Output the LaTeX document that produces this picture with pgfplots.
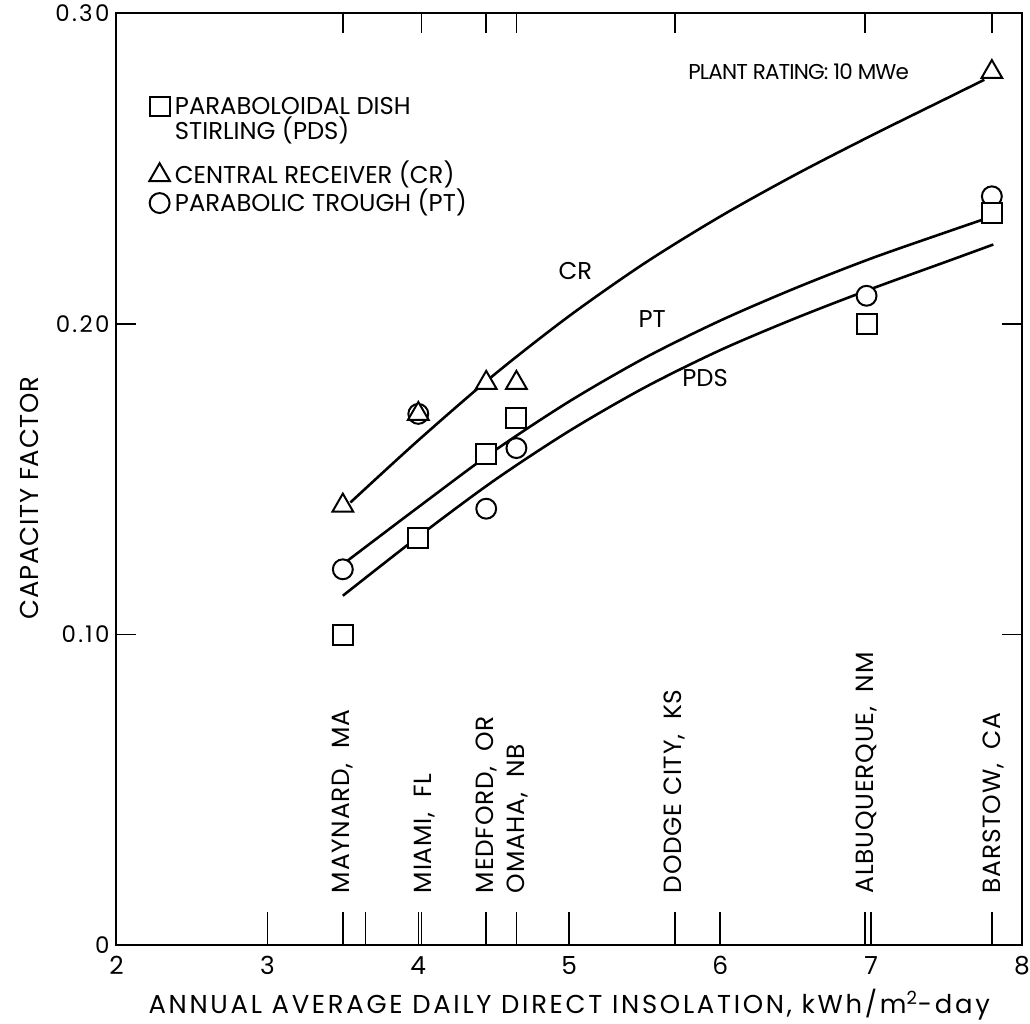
\documentclass[border=0pt]{standalone}
\usepackage{fontspec}
\setmainfont{Poppins}
\usepackage{pgfplots}
\pgfplotsset{compat=1.18}
\begin{document}
\begin{tikzpicture}
\begin{axis}[
  name=ax,
  scale only axis, width=455pt, height=468.5pt,
  xmin=2, xmax=8, ymin=0, ymax=0.30,
  axis line style={line width=1pt},
  xtick={2,3,4,5,6,7,8},
  xticklabels={2,3,4,5,6,7,8},
  extra x ticks={3.5,3.65,4.02,4.45,4.65,5.7,6.96,7.8},
  extra x tick labels={},
  xtick pos=bottom,
  major tick length=17pt,
  xtick style={line width=0.8pt, black},
  ytick={0,0.1,0.2,0.3},
  yticklabels={0,0.10,0.20,0.30},
  ytick style={draw=none},
  yticklabel style={font=\fontsize{11.5}{13}\selectfont\addfontfeature{LetterSpace=10}},
  xticklabel style={yshift=-2pt, font=\fontsize{12.5}{14}\selectfont},
  xlabel={ANNUAL AVERAGE DAILY DIRECT INSOLATION, kWh/m\textsuperscript{2}-day},
  xlabel style={at={(axis description cs:0.5,0)}, anchor=base, yshift=-34pt,
    font=\fontsize{13}{15}\selectfont\addfontfeature{LetterSpace=10.5}},
  ylabel={CAPACITY FACTOR},
  ylabel style={at={(axis description cs:-0.0956,0.48)}, anchor=center,
    font=\fontsize{13}{15}\selectfont\addfontfeature{LetterSpace=3}},
  legend style={at={(0.0285,0.9117)}, anchor=north west, draw=none, fill=none,
    inner sep=0pt, row sep=0pt, column sep=2.5pt,
    font=\fontsize{12.2}{12}\selectfont,
    nodes={inner sep=0pt, text depth=}, cells={anchor=base west}},
  legend image post style={yshift=4.2pt},
]
% legend
\addlegendimage{only marks, mark=square*, mark size=5pt, mark options={fill=white, draw=black, line width=1pt}}
\addlegendentry{\rule[-1.25pt]{0pt}{10.9pt}\smash{PARABOLOIDAL DISH}}
\addlegendimage{empty legend}
\addlegendentry{\rule[-11pt]{0pt}{22.25pt}\smash{STIRLING (PDS)}}
\addlegendimage{only marks, mark=triangle*, mark size=6pt, mark options={fill=white, draw=black, line width=1pt}}
\addlegendentry{\rule[-4pt]{0pt}{15pt}\smash{CENTRAL RECEIVER (CR)}}
\addlegendimage{only marks, mark=*, mark size=5pt, mark options={fill=white, draw=black, line width=1pt}}
\addlegendentry{\rule[-1pt]{0pt}{11pt}\smash{PARABOLIC TROUGH (PT)}}

% fitted curves
\addplot[smooth, line width=1.3pt, black, forget plot] coordinates {
 (3.55,0.1425) (4.0,0.1625) (4.5,0.1835) (5.0,0.2025) (5.5,0.2195) (6.0,0.2345)
 (6.5,0.248) (7.0,0.2605) (7.5,0.2725) (7.75,0.2785)};
\addplot[smooth, line width=1.3pt, black, forget plot] coordinates {
 (3.51,0.123) (4.0,0.141) (4.5,0.159) (5.0,0.175) (5.5,0.189) (6.0,0.201)
 (6.5,0.2115) (7.0,0.221) (7.5,0.2295) (7.74,0.2335)};
\addplot[smooth, line width=1.3pt, black, forget plot] coordinates {
 (3.50,0.1125) (4.0,0.1315) (4.5,0.1495) (5.0,0.1655) (5.5,0.1795) (6.0,0.1915)
 (6.5,0.2018) (7.0,0.2112) (7.5,0.2200) (7.81,0.2255)};

% PT circles
\addplot[only marks, mark=*, mark size=5pt, mark options={fill=white, draw=black, line width=1pt}, forget plot] coordinates {
 (3.5,0.121) (4.0,0.171) (4.45,0.1405) (4.65,0.160) (6.97,0.209) (7.8,0.241)};
% PDS squares
\addplot[only marks, mark=square*, mark size=5pt, mark options={fill=white, draw=black, line width=1pt}, forget plot] coordinates {
 (3.5,0.100) (4.0,0.131) (4.45,0.158) (4.65,0.1696) (6.97,0.200) (7.8,0.2355)};
% CR triangles
\addplot[only marks, mark=triangle*, mark size=6pt, mark options={fill=white, draw=black, line width=1pt}, forget plot] coordinates {
 (3.5,0.1415) (4.0,0.171) (4.45,0.181) (4.65,0.181) (7.8,0.281)};

% annotations
\node[font=\fontsize{12.2}{12}\selectfont] at (axis cs:5.04,0.217) {CR};
\node[font=\fontsize{12.2}{12}\selectfont] at (axis cs:5.55,0.2015) {PT};
\node[font=\fontsize{12.2}{12}\selectfont] at (axis cs:5.90,0.1825) {PDS};
\node[font=\fontsize{10.8}{12}\selectfont\addfontfeature{LetterSpace=-4}] at (axis cs:6.52,0.281) {PLANT RATING: 10 MWe};

\begin{scope}[every node/.style={rotate=90, anchor=west, inner sep=0pt,
    font=\fontsize{12.5}{12}\selectfont\addfontfeature{LetterSpace=3}}]
\node at (axis cs:3.5,0.0167) {MAYNARD,\ \ MA};
\node at (axis cs:4.04,0.0167) {MIAMI,\ \ FL};
\node at (axis cs:4.45,0.0167) {MEDFORD,\ \ OR};
\node at (axis cs:4.66,0.0167) {OMAHA,\ \ NB};
\node at (axis cs:5.70,0.0167) {DODGE CITY,\ \ KS};
\node at (axis cs:6.97,0.0167) {ALBUQUERQUE,\ \ NM};
\node at (axis cs:7.81,0.0167) {BARSTOW,\ \ CA};
\end{scope}
\end{axis}

\begin{axis}[
  scale only axis, width=455pt, height=468.5pt,
  xmin=2, xmax=8, ymin=0, ymax=0.30,
  axis line style={draw=none},
  xtick={3.5,4.02,4.45,4.65,5.7,6.96,7.8}, xticklabels={}, xtick pos=top,
  ytick={0.1,0.2}, yticklabels={}, ytick pos=both,
  major tick length=10pt, tick style={line width=0.8pt, black},
]
\end{axis}

\pgfresetboundingbox
\useasboundingbox ([xshift=-58.5pt,yshift=-39pt]ax.south west) rectangle ([xshift=4pt,yshift=6.5pt]ax.north east);
\end{tikzpicture}
\end{document}
